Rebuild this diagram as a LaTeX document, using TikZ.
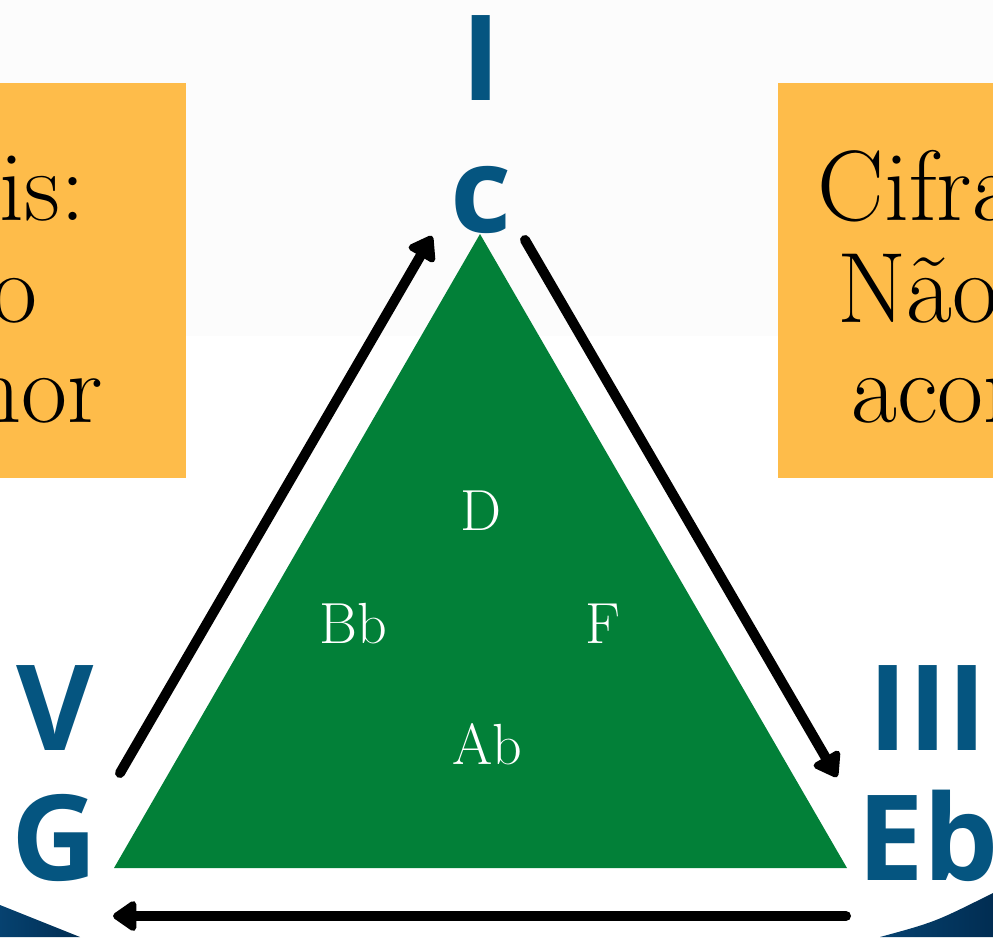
\documentclass[tikz,border=0pt]{standalone}
\usepackage{fontspec}
\newfontfamily\degfont{Open Sans}
\usepackage{tikz}
\usetikzlibrary{arrows.meta}
\definecolor{degblue}{RGB}{5,85,128}
\definecolor{triangreen}{RGB}{2,128,56}
\definecolor{boxorange}{RGB}{254,188,74}
\definecolor{paper}{RGB}{252,252,252}
\definecolor{navyA}{RGB}{6,66,112}
\definecolor{navyB}{RGB}{1,45,82}
\tikzstyle{degree}=[anchor=base,inner sep=0pt,text=degblue,font=\degfont\bfseries\fontsize{119}{119}\selectfont]
\tikzstyle{note}=[inner sep=0pt,font=\fontsize{100}{101}\selectfont]
\tikzstyle{tone}=[anchor=base,inner sep=0pt,text=white,font=\fontsize{58}{60}\selectfont]
\tikzstyle{edge} = [draw,line width=10pt,line cap=round,-{Triangle[length=26pt,width=34pt,round]}]

\begin{document}
\begin{tikzpicture}[x=1pt,y=-1pt]
        \useasboundingbox (0,0) rectangle (993,937);
        \clip (0,0) rectangle (993,937);
        \fill[paper] (0,0) rectangle (993,336);
        % side boxes
        \fill[boxorange] (0,83) rectangle (186,478);
        \fill[boxorange] (778,83) rectangle (993,478);
        \node[note,anchor=base east] (l1) at (86,220) {is:};
        \node[note,anchor=base east] (l2) at (38,322) {o};
        \node[note,anchor=base east] (l3) at (103,422) {nor};
        \node[note,anchor=base west] (r1) at (817,220) {Cifra};
        \node[note,anchor=base west] (r2) at (837,322) {Não};
        \node[note,anchor=base west] (r3) at (851,422) {acor};
        % corners
        \shade[left color=navyA,right color=navyB] (0,905) -- (80,937) -- (0,937) -- cycle;
        \shade[left color=navyA,right color=navyB] (880,937) .. controls (935,922) .. (993,893) -- (993,937) -- cycle;
        % triangle
        \fill[triangreen] (480,234) -- (847,868) -- (114,868) -- cycle;
        \node[tone] (D) at (481,530) {D};
        \node[tone] (Bb) at (353,643) {Bb};
        \node[tone] (F) at (603,643) {F};
        \node[tone] (Ab) at (487,764) {Ab};
        % degrees and chords
        \node[degree] (I) at (481,100) {I};
        \node[degree] (c) at (481,232) {c};
        \node[degree] (V) at (55,750) {V};
        \node[degree] (G) at (55,880) {G};
        \node[degree] (III) at (928,750) {III};
        \node[degree,anchor=base west] (Eb) at (857,880) {Eb};
        \coordinate (g-out) at (120,773);
        \coordinate (c-in) at (432,236);
        \coordinate (c-out) at (525,240);
        \coordinate (eb-in) at (837,777);
        \coordinate (eb-out) at (846,916);
        \coordinate (g-in) at (113,916);
        \draw[edge] (g-out) to (c-in);
        \draw[edge] (c-out) to (eb-in);
        \draw[edge] (eb-out) to (g-in);
      \end{tikzpicture}
\end{document}
